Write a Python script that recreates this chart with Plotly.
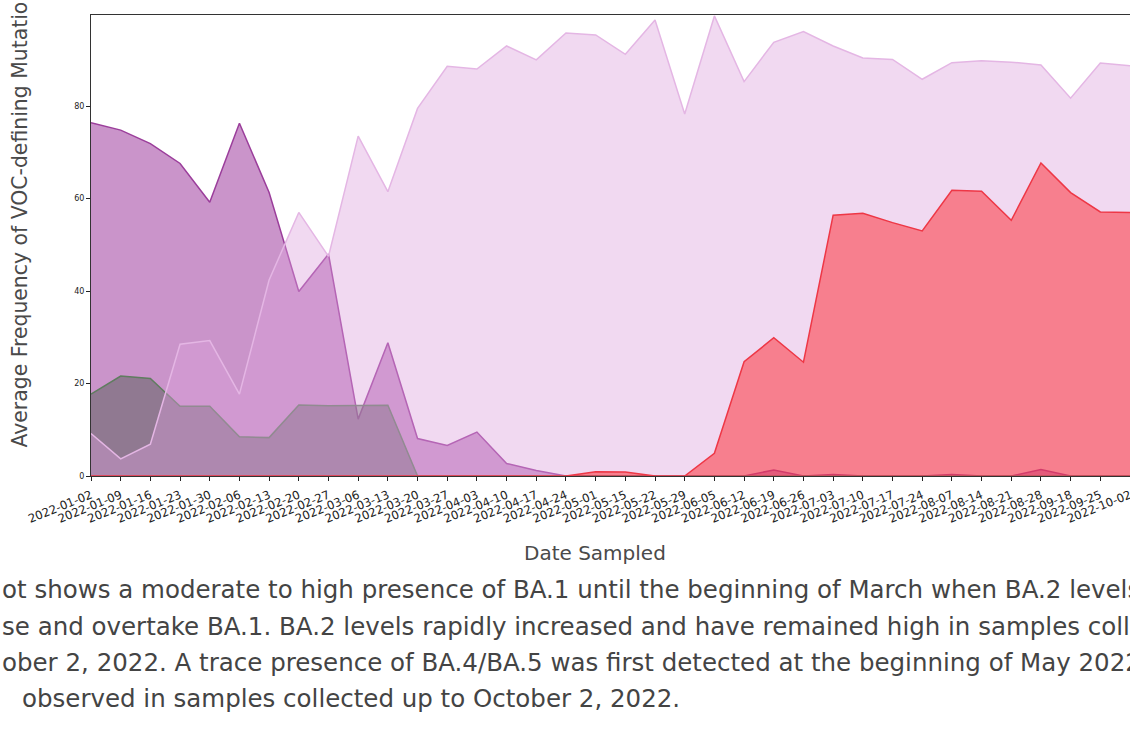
import plotly.graph_objects as go

dates = ["2022-01-02", "2022-01-09", "2022-01-16", "2022-01-23", "2022-01-30", "2022-02-06",
         "2022-02-13", "2022-02-20", "2022-02-27", "2022-03-06", "2022-03-13", "2022-03-20",
         "2022-03-27", "2022-04-03", "2022-04-10", "2022-04-17", "2022-04-24", "2022-05-01",
         "2022-05-15", "2022-05-22", "2022-05-29", "2022-06-05", "2022-06-12", "2022-06-19",
         "2022-06-26", "2022-07-03", "2022-07-10", "2022-07-17", "2022-07-24", "2022-08-07",
         "2022-08-14", "2022-08-21", "2022-08-28", "2022-09-18", "2022-09-25", "2022-10-02"]

ba1 = [76.4, 74.8, 71.9, 67.6, 59.2, 76.3, 61.3, 39.9, 48.0, 12.3, 28.8, 8.1,
       6.6, 9.5, 2.7, 1.2, 0, 0, 0, 0, 0, 0, 0, 1.3,
       0, 0.3, 0, 0, 0, 0.3, 0, 0, 1.4, 0, 0, 0]

other = [17.7, 21.6, 21.1, 15.1, 15.1, 8.5, 8.3, 15.35, 15.2, 15.2, 15.3, 0,
         0, 0, 0, 0, 0, 0, 0, 0, 0, 0, 0, 0,
         0, 0, 0, 0, 0, 0, 0, 0, 0, 0, 0, 0]

ba2 = [9.2, 3.7, 6.9, 28.5, 29.3, 17.7, 42.4, 57.0, 47.5, 73.5, 61.5, 79.5,
       88.6, 88.0, 93.0, 90.0, 95.8, 95.4, 91.2, 98.6, 78.3, 99.5, 85.3, 93.8,
       96.1, 93.0, 90.4, 90.1, 85.8, 89.4, 89.8, 89.5, 88.9, 81.7, 89.3, 88.7]

ba45 = [0, 0, 0, 0, 0, 0, 0, 0, 0, 0, 0, 0,
        0, 0, 0, 0, 0, 0.9, 0.85, 0, 0, 4.9, 24.7, 29.9,
        24.6, 56.4, 56.8, 54.8, 53.0, 61.8, 61.6, 55.3, 67.7, 61.3, 57.1, 57.0]

yticks = [0, 20, 40, 60, 80]

caption_lines = [
    "ot shows a moderate to high presence of BA.1 until the beginning of March when BA.2 levels",
    "se and overtake BA.1. BA.2 levels rapidly increased and have remained high in samples collected",
    "ober 2, 2022. A trace presence of BA.4/BA.5 was first detected at the beginning of May 2022",
    "observed in samples collected up to October 2, 2022.",
]

idx = list(range(len(dates)))

W, H = 1130, 750
# plot area in page pixels
SL, SR, ST, SB = 91, 1130, 15, 476


def px(x):  # page x -> paper
    return (x - SL) / (SR - SL)


def py(y):  # page y -> paper
    return (SB - y) / (SB - ST)


series = [
    ("BA.1", ba1, "rgba(128,0,128,0.42)", "rgb(155,62,155)"),
    ("Other", other, "rgba(86,94,88,0.5)", "rgb(95,125,95)"),
    ("BA.2", ba2, "rgba(221,160,221,0.4)", "rgb(228,182,228)"),
    ("BA.4/BA.5", ba45, "rgba(255,0,0,0.41)", "rgb(238,55,70)"),
]

fig = go.Figure()
for name, vals, fc, lc in series:
    fig.add_trace(go.Scatter(
        x=idx, y=vals, name=name, mode="lines", fill="tozeroy",
        fillcolor=fc, line=dict(color=lc, width=1.5), showlegend=False,
        hoverinfo="x+y+name"))

font = "DejaVu Sans"
fig.update_layout(
    width=W, height=H,
    margin=dict(l=SL, r=W - SR, t=ST, b=H - SB, pad=0),
    paper_bgcolor="white", plot_bgcolor="white",
    showlegend=False,
    font=dict(family=font, color="#222"),
    xaxis=dict(
        range=[0, len(dates) - 1], tickmode="array", tickvals=idx, ticktext=dates,
        tickangle=-22, tickfont=dict(family=font, size=11.7, color="#222"),
        ticks="outside", ticklen=4, tickwidth=1, tickcolor="#222",
        ticklabelstandoff=3, ticklabeloverflow="allow",
        showline=True, linecolor="#333", linewidth=1, mirror=True,
        showgrid=False, zeroline=False, automargin=False),
    yaxis=dict(
        range=[0, 99.7], tickmode="array", tickvals=yticks,
        tickfont=dict(family=font, size=8, color="#222"),
        ticks="outside", ticklen=4, tickwidth=1, tickcolor="#222",
        showline=True, linecolor="#333", linewidth=1, mirror=False,
        showgrid=False, zeroline=False, automargin=False),
)

annotations = [
    dict(text="Date Sampled", x=px(595), y=py(553), xref="paper", yref="paper",
         xanchor="center", yanchor="middle", showarrow=False,
         font=dict(family=font, size=20, color="#4a4a4a")),
    dict(text="Average Frequency of VOC-defining Mutations", x=px(19), y=py(450),
         xref="paper", yref="paper", xanchor="center", yanchor="bottom",
         textangle=-90, showarrow=False,
         font=dict(family=font, size=20.4, color="#4a4a4a")),
]
cap_x = [0, 0, 0, 20]
cap_y = [589, 626, 662, 698]
for t, cx, cy in zip(caption_lines, cap_x, cap_y):
    annotations.append(dict(
        text=t, x=px(cx), y=py(cy), xref="paper", yref="paper",
        xanchor="left", yanchor="middle", showarrow=False, align="left",
        font=dict(family=font, size=24.5, color="#444")))
fig.update_layout(annotations=annotations)

fig.write_html("out.html",
               config={"displayModeBar": False},
               post_script="document.body.style.margin='0';"
                           "document.body.style.overflow='hidden';")
